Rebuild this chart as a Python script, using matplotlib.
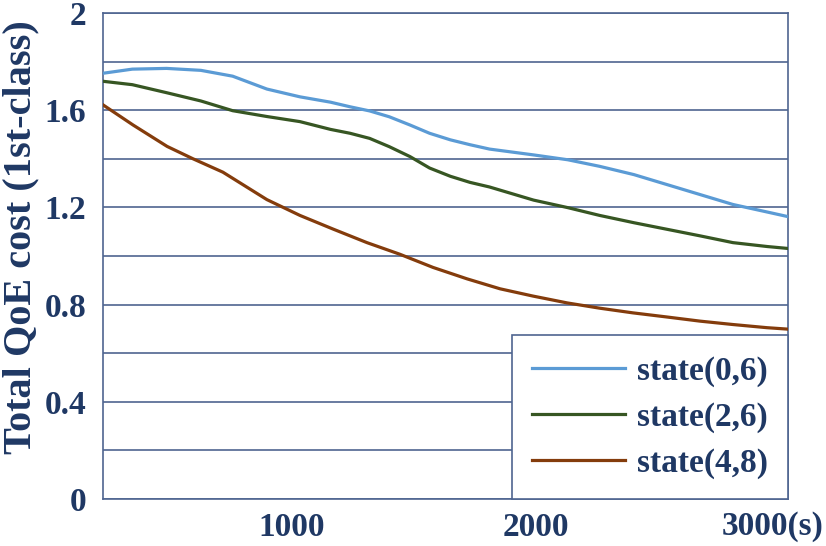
import matplotlib
matplotlib.use('Agg')
import matplotlib.pyplot as plt
from matplotlib.transforms import ScaledTranslation

# values
time_s = [230, 350, 490, 630, 760, 900, 1035, 1160, 1240, 1320, 1400, 1485, 1565,
          1650, 1730, 1810, 1990, 2130, 2260, 2400, 2535, 2670, 2805, 2945, 3030]
state_0_6 = [1.752, 1.769, 1.772, 1.764, 1.740, 1.687, 1.655, 1.633, 1.614, 1.597, 1.573,
             1.539, 1.505, 1.478, 1.458, 1.440, 1.416, 1.396, 1.369, 1.335, 1.294,
             1.253, 1.212, 1.181, 1.162]
state_2_6 = [1.719, 1.705, 1.672, 1.638, 1.598, 1.574, 1.553, 1.521, 1.505, 1.484, 1.450,
             1.409, 1.362, 1.328, 1.303, 1.284, 1.230, 1.199, 1.167, 1.137, 1.110,
             1.083, 1.055, 1.039, 1.031]
time_s_48 = [230, 353, 492, 598, 720, 900, 1035, 1170, 1309, 1444, 1579, 1718, 1853,
             1988, 2127, 2262, 2396, 2535, 2670, 2805, 2944, 3030]
state_4_8 = [1.622, 1.539, 1.451, 1.400, 1.345, 1.232, 1.167, 1.111, 1.055, 1.007, 0.953,
             0.906, 0.865, 0.835, 0.807, 0.785, 0.766, 0.749, 0.732, 0.718, 0.705, 0.699]
labels = ['state(0,6)', 'state(2,6)', 'state(4,8)']
colors = ['#5b9bd5', '#375623', '#843c0c']

y_ticks = [0, 0.2, 0.4, 0.6, 0.8, 1.0, 1.2, 1.4, 1.6, 1.8, 2.0]
y_tick_labels = ['0', '', '0.4', '', '0.8', '', '1.2', '', '1.6', '', '2']
x_ticks = [1000, 2000, 3000]
x_tick_labels = ['1000', '2000', '3000(s)']

navy = '#1f3864'
grid_col = '#4f6590'

plt.rcParams['font.family'] = ['Liberation Serif', 'DejaVu Serif']
plt.rcParams['font.weight'] = 'bold'

fig = plt.figure(figsize=(8.26, 5.46), dpi=100)
ax = fig.add_axes([103 / 826, 47 / 546, 685 / 826, 486 / 546])

xs = [time_s, time_s, time_s_48]
for x, series, lab, col in zip(xs, [state_0_6, state_2_6, state_4_8], labels, colors):
    ax.plot(x, series, color=col, lw=2.3, label=lab, zorder=3,
            solid_joinstyle='round')

ax.set_xlim(230, 3030)
ax.set_ylim(0, 2)
ax.set_yticks(y_ticks)
ax.set_yticklabels(y_tick_labels)
ax.set_xticks(x_ticks)
ax.set_xticklabels(x_tick_labels)
ax.tick_params(length=0, labelsize=24, labelcolor=navy)
ax.tick_params(axis='y', pad=12)
ax.tick_params(axis='x', pad=9)
ax.yaxis.grid(True, color=grid_col, lw=1.2)
ax.set_axisbelow(True)
for s in ax.spines.values():
    s.set_color(grid_col)
    s.set_linewidth(1.2)

# last x label sits a bit left so it stays inside the picture
last = ax.get_xticklabels()[-1]
last.set_transform(last.get_transform() + ScaledTranslation(-8 / 100, 0, fig.dpi_scale_trans))

fig.text(21 / 826, 1 - 237 / 546, 'Total QoE cost (1st-class)', rotation=90,
         ha='center', va='center', fontsize=29, color=navy, fontweight='bold')

leg = ax.legend(loc='lower right', borderaxespad=0, fancybox=False,
                edgecolor=grid_col, framealpha=1, fontsize=24,
                handlelength=2.8, handletextpad=0.36, labelspacing=0.45,
                borderpad=0.6)
leg.get_frame().set_linewidth(1.2)
for t in leg.get_texts():
    t.set_color(navy)

plt.savefig('out.png', dpi=100)
